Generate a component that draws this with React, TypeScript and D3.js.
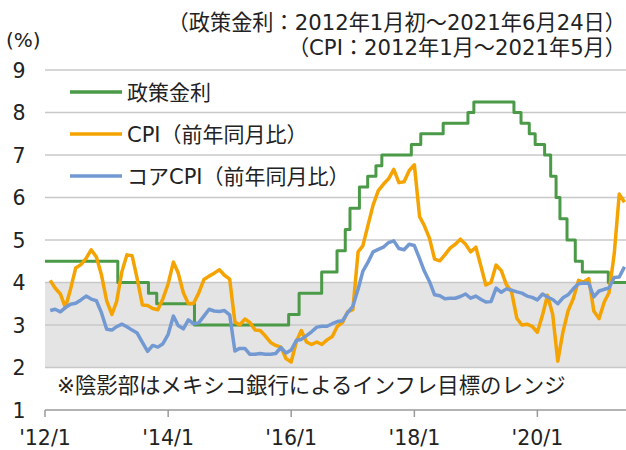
import * as d3 from 'd3';
import React from 'react';

// policy rate changes (date, rate)
const policyDates = [
  '2012-01-01', '2013-03-08', '2013-09-06', '2013-10-25', '2014-06-06', '2015-12-17',
  '2016-02-17', '2016-06-30', '2016-09-29', '2016-11-17', '2016-12-15', '2017-02-09',
  '2017-03-30', '2017-05-18', '2017-06-22', '2017-12-14', '2018-02-08', '2018-06-21',
  '2018-11-15', '2018-12-20', '2019-08-15', '2019-09-26', '2019-11-14', '2019-12-19',
  '2020-02-13', '2020-03-20', '2020-04-21', '2020-05-14', '2020-06-25', '2020-08-13',
  '2020-09-24', '2021-02-25', '2021-06-24'
];
const policyRates = [
  4.5, 4.0, 3.75, 3.5, 3.0, 3.25,
  3.75, 4.25, 4.75, 5.25, 5.75, 6.25,
  6.5, 6.75, 7.0, 7.25, 7.5, 7.75,
  8.0, 8.25, 8.0, 7.75, 7.5, 7.25,
  7.0, 6.5, 6.0, 5.5, 5.0, 4.5,
  4.25, 4.0, 4.0
];

// monthly, 2012/1 - 2021/5
const cpi = [
  4.05, 3.87, 3.73, 3.41, 3.85, 4.34, 4.42, 4.57, 4.77, 4.60, 4.18, 3.57,
  3.25, 3.55, 4.25, 4.65, 4.63, 4.09, 3.47, 3.46, 3.39, 3.36, 3.62, 3.97,
  4.48, 4.23, 3.76, 3.50, 3.51, 3.75, 4.07, 4.15, 4.22, 4.30, 4.17, 4.08,
  3.07, 3.00, 3.14, 3.06, 2.88, 2.87, 2.74, 2.59, 2.52, 2.48, 2.21, 2.13,
  2.61, 2.87, 2.60, 2.54, 2.60, 2.54, 2.65, 2.73, 2.97, 3.06, 3.31, 3.36,
  4.72, 4.86, 5.35, 5.82, 6.16, 6.31, 6.44, 6.66, 6.35, 6.37, 6.63, 6.77,
  5.55, 5.34, 5.04, 4.55, 4.51, 4.65, 4.81, 4.90, 5.02, 4.90, 4.72, 4.83,
  4.37, 3.94, 4.00, 4.41, 4.28, 3.95, 3.78, 3.16, 3.00, 3.02, 2.97, 2.83,
  3.24, 3.70, 3.25, 2.15, 2.84, 3.33, 3.62, 4.05, 4.01, 4.09, 3.33, 3.15,
  3.54, 3.76, 4.67, 6.08, 5.89
];
const coreCpi = [
  3.34, 3.37, 3.31, 3.41, 3.49, 3.51, 3.59, 3.68, 3.61, 3.57, 3.29, 2.90,
  2.88, 2.96, 3.02, 2.96, 2.88, 2.81, 2.59, 2.38, 2.52, 2.48, 2.56, 2.78,
  3.21, 2.99, 2.91, 3.12, 3.03, 3.05, 3.21, 3.37, 3.33, 3.32, 3.34, 3.24,
  2.39, 2.45, 2.45, 2.31, 2.31, 2.33, 2.31, 2.31, 2.33, 2.47, 2.34, 2.41,
  2.64, 2.66, 2.75, 2.84, 2.95, 2.97, 2.97, 3.03, 3.08, 3.10, 3.29, 3.44,
  3.84, 4.26, 4.48, 4.72, 4.78, 4.83, 4.94, 4.98, 4.80, 4.77, 4.90, 4.87,
  4.56, 4.27, 4.02, 3.71, 3.69, 3.62, 3.63, 3.63, 3.67, 3.73, 3.63, 3.68,
  3.60, 3.54, 3.55, 3.87, 3.77, 3.85, 3.82, 3.78, 3.75, 3.68, 3.65, 3.59,
  3.73, 3.66, 3.60, 3.50, 3.64, 3.71, 3.85, 3.97, 3.99, 3.98, 3.66, 3.80,
  3.84, 3.87, 4.12, 4.13, 4.37
];

const yTicks = [1, 2, 3, 4, 5, 6, 7, 8, 9];
const xTickYears = [2012, 2014, 2016, 2018, 2020];
const targetRange = [2, 4];

const legendItems = [
  { label: '政策金利', color: '#4b9a47' },
  { label: 'CPI（前年同月比）', color: '#f5a300' },
  { label: 'コアCPI（前年同月比）', color: '#7399d3' },
];

// latin in a Verdana-like face, Japanese falls back to Noto CJK
const font = '"DejaVu Sans", "Noto Sans CJK JP", sans-serif';

export default function App() {
  const width = 626;
  const height = 450;
  const left = 45, right = 626, top = 70, bottom = 410;

  const x = d3.scaleTime()
    .domain([new Date(2012, 0, 1), new Date(2021, 5, 10)])
    .range([left, right]);
  const y = d3.scaleLinear().domain([1, 9]).range([bottom, top]);

  // monthly values plotted at the end of each month
  const monthDate = (i: number) => new Date(2012, i + 1, 1);

  const line = d3.line<number>()
    .x((d, i) => x(monthDate(i)))
    .y(d => y(d));

  const policyPts = policyDates.map((d, i) => [new Date(d), policyRates[i]] as [Date, number]);
  const stepLine = d3.line<[Date, number]>()
    .x(d => x(d[0]))
    .y(d => y(d[1]))
    .curve(d3.curveStepAfter);

  return (
    <div style={{ position: 'fixed', left: 0, top: 0, width, height, overflow: 'hidden', background: '#fff' }}>
      <svg width={width} height={height} style={{ display: 'block', fontFamily: font }}>
        <defs>
          <clipPath id="plot">
            <rect x={left} y={0} width={right - left} height={bottom} />
          </clipPath>
        </defs>
        <rect x={left} y={y(targetRange[1])} width={right - left}
          height={y(targetRange[0]) - y(targetRange[1])} fill="#e4e4e4" />
        {yTicks.filter(t => t > 1).map(t => (
          <line key={t} x1={left} x2={right} y1={y(t)} y2={y(t)} stroke="#c8c8c8" strokeWidth={1.5} />
        ))}
        <line x1={left} x2={right} y1={bottom} y2={bottom} stroke="#9a9a9a" strokeWidth={1.5} />
        {xTickYears.map(yr => (
          <g key={yr}>
            <line x1={x(new Date(yr, 0, 1))} x2={x(new Date(yr, 0, 1))} y1={bottom} y2={bottom + 7}
              stroke="#9a9a9a" strokeWidth={1.5} />
            <text x={x(new Date(yr, 0, 1))} y={bottom + 35} textAnchor="middle" fontSize={20.5} fill="#222">
              {`'${String(yr).slice(2)}/1`}
            </text>
          </g>
        ))}
        {yTicks.map(t => (
          <text key={t} x={19} y={y(t) + 7.5} textAnchor="middle" fontSize={20.5} fill="#222">{t}</text>
        ))}
        <text x={6} y={47} fontSize={20} fill="#222">(%)</text>
        <text x={626} y={30} textAnchor="end" fontSize={21.2} fill="#222">（政策金利：2012年1月初～2021年6月24日）</text>
        <text x={626} y={55} textAnchor="end" fontSize={21.2} fill="#222">（CPI：2012年1月～2021年5月）</text>

        <g clipPath="url(#plot)" fill="none" strokeLinejoin="round">
          <path d={stepLine(policyPts) || ''} stroke="#4b9a47" strokeWidth={3} />
          <path d={line(cpi) || ''} stroke="#f5a300" strokeWidth={3.5} />
          <path d={line(coreCpi) || ''} stroke="#7399d3" strokeWidth={3.5} />
        </g>

        {legendItems.map((it, i) => (
          <g key={it.label} transform={`translate(70,${92 + i * 42})`}>
            <line x1={0} x2={52} y1={0} y2={0} stroke={it.color} strokeWidth={3.5} />
            <text x={57} y={7.5} fontSize={21} fill="#222">{it.label}</text>
          </g>
        ))}
        <text x={57} y={393} fontSize={21.4} fill="#222">※陰影部はメキシコ銀行によるインフレ目標のレンジ</text>
      </svg>
    </div>
  );
}
